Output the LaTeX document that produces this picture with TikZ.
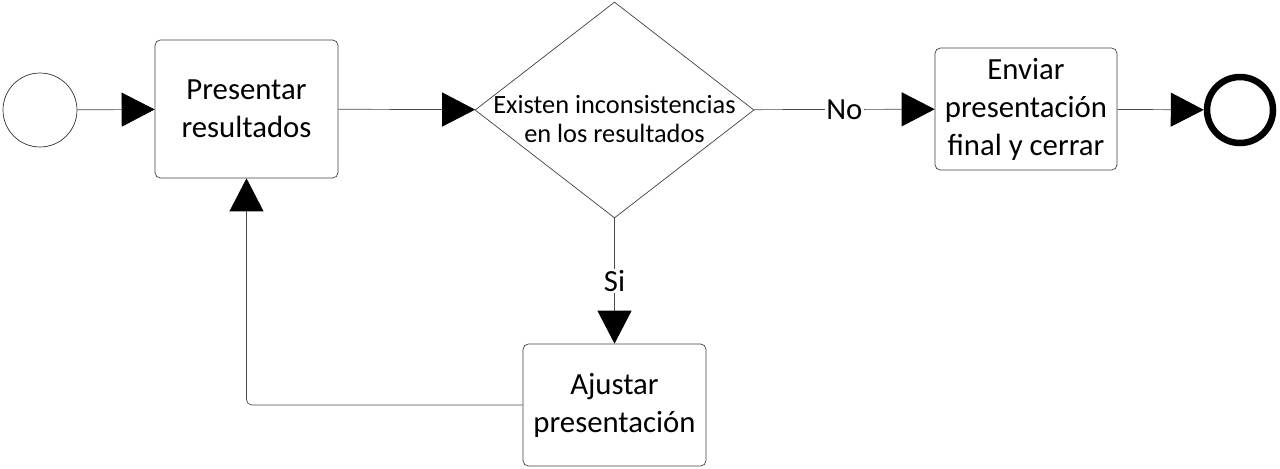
\documentclass[tikz,border=0pt]{standalone}
\usepackage{fontspec}
\setmainfont{Carlito}
\usetikzlibrary{arrows,arrows.meta}
\usetikzlibrary{shapes,positioning}

\begin{document}
\begin{tikzpicture}[x=0.02cm,y=-0.02cm,
  tarea/.style={draw=black!75,rounded corners=3pt,minimum width=3.66cm,
    minimum height=2.44cm,align=center,font=\fontsize{17.5}{21.6}\selectfont},
  decision/.style={diamond,draw=black!75,inner sep=0pt,
    minimum width=5.58cm,minimum height=4.32cm},
  evento/.style={circle,draw=black!80,inner sep=0pt},
  flecha/.style={draw=black!70,-{Triangle[length=0.66cm,width=0.68cm,color=black]}},
  etiq/.style={fill=white,inner sep=1pt,font=\fontsize{17.5}{21}\selectfont}]
\useasboundingbox (0,0) rectangle (1280,468);
\node[evento,minimum size=1.48cm] (ini) at (40,110) {};
\node[tarea,minimum height=2.76cm] (pres) at (246.5,109) {Presentar\\resultados};
\node[decision] (dec) at (614.5,110) {};
\node[align=center,font=\fontsize{15}{17}\selectfont] (dectxt) at (614.5,119) {Existen inconsistencias\\en los resultados};
\node[tarea,minimum width=3.64cm] (env) at (1026,109) {Enviar\\presentación\\final y cerrar};
\node[evento,draw=black,line width=0.13cm,minimum size=1.32cm] (fin) at (1240,110) {};
\node[tarea] (ajus) at (614.5,405) {Ajustar\\presentación};

\draw[flecha] (ini) -- (pres);
\draw[flecha] (pres) -- (dec);
\draw[flecha] (dec) -- node[etiq]{No} (env);
\draw[flecha] (env) -- (fin);
\draw[flecha] (dec.south) -- node[etiq]{Si} (ajus.north);
\draw[flecha,rounded corners=3pt] (ajus.west) -| (pres.south);
\end{tikzpicture}
\end{document}
